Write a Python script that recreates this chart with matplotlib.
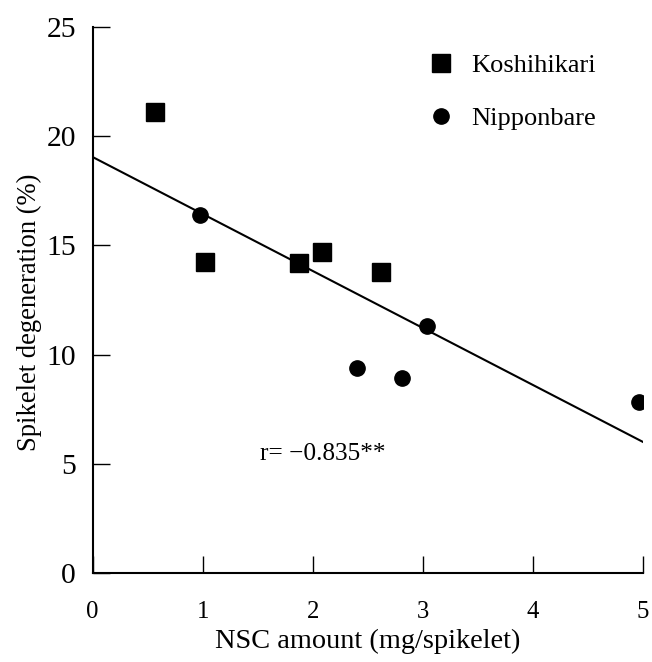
import matplotlib
matplotlib.use("Agg")
import matplotlib.pyplot as plt
import numpy as np

plt.rcParams['font.family'] = ['Liberation Serif', 'DejaVu Serif']

# Data
kosh_x = [0.57, 1.02, 1.88, 2.08, 2.62]
kosh_y = [21.1, 14.25, 14.2, 14.7, 13.8]
nipp_x = [0.98, 2.40, 2.81, 3.04, 4.96]
nipp_y = [16.4, 9.4, 8.95, 11.3, 7.85]
fit_intercept = 19.05
fit_slope = -2.61
fit_range = [0, 5]
xticks = [0, 1, 2, 3, 4, 5]
yticks = [0, 5, 10, 15, 20, 25]
xlabel = "NSC amount (mg/spikelet)"
ylabel = "Spikelet degeneration (%)"
r_text = "r= \u22120.835**"

W, H = 652, 662
fig = plt.figure(figsize=(W / 100, H / 100), dpi=100)
L, R, T, B = 92.5, 643, 27, 573
ax = fig.add_axes([L / W, 1 - B / H, (R - L) / W, (B - T) / H])

ax.plot(kosh_x, kosh_y, linestyle='none', marker='s', ms=12.7, color='black', label='Koshihikari')
ax.plot(nipp_x, nipp_y, linestyle='none', marker='o', ms=11, color='black', label='Nipponbare')
fx = np.array(fit_range, dtype=float)
ax.plot(fx, fit_intercept + fit_slope * fx, color='black', lw=1.5)

ax.set_xlim(0, 5)
ax.set_ylim(0, 25)
ax.set_xticks(xticks)
ax.set_yticks(yticks)
for s in ['top', 'right']:
    ax.spines[s].set_visible(False)
for s in ['left', 'bottom']:
    ax.spines[s].set_linewidth(1.5)
ax.tick_params(axis='both', direction='in', length=12.5, width=1.0)
ax.tick_params(axis='y', labelsize=21.3, pad=12)
ax.tick_params(axis='x', labelsize=17.8, pad=20)

ax.set_xlabel(xlabel, fontsize=20.4, va='baseline')
ax.xaxis.set_label_coords(0.5, -(648 - B) / (B - T))
ax.set_ylabel(ylabel, fontsize=19.2, va='center', rotation_mode='default')
ax.yaxis.set_label_coords(-(L - 29) / (R - L), (B - 312) / (B - T))

ax.text(1.52, 5.45, r_text, fontsize=18.2, ha='left', va='center')

ax.legend(loc='upper left', bbox_to_anchor=((428 - L) / (R - L), 1 - (54 - T) / (B - T)),
          frameon=False, fontsize=19, handlelength=1.0, handletextpad=0.65,
          labelspacing=1.1, borderpad=0, borderaxespad=0, numpoints=1)

fig.savefig('out.png', dpi=100)
